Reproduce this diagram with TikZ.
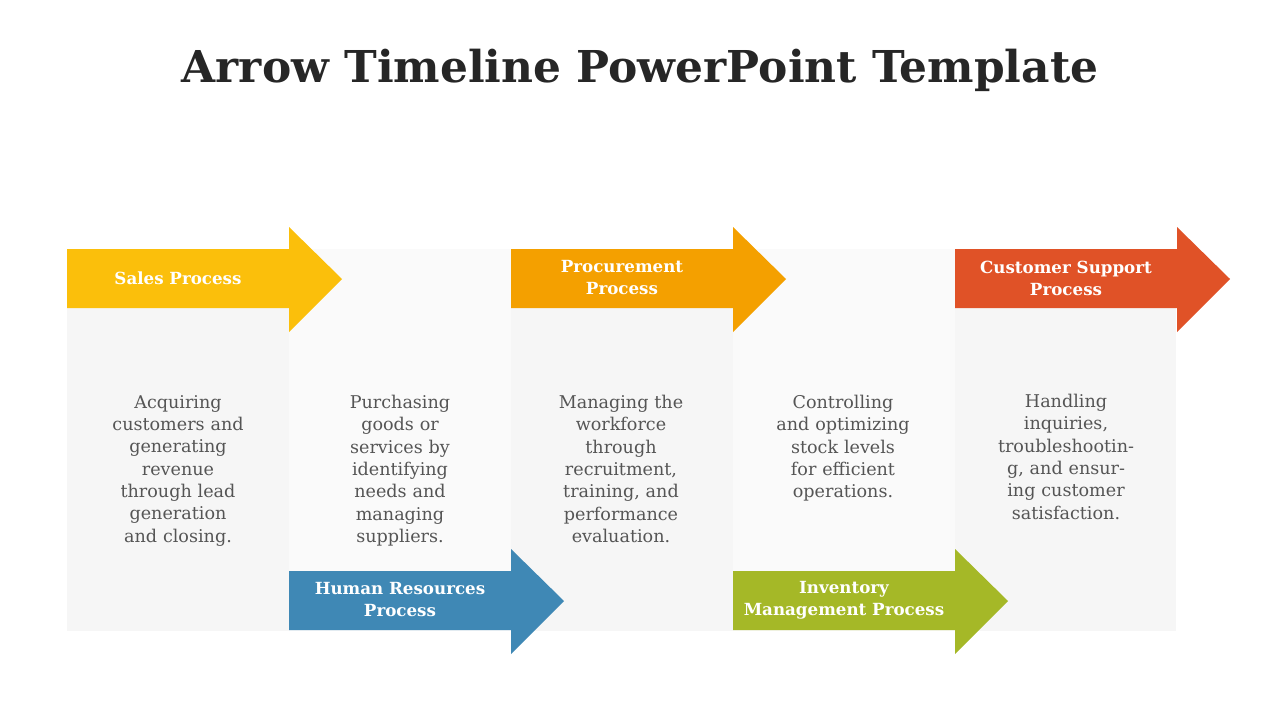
\documentclass[tikz,border=0pt]{standalone}
\usepackage{fontspec}
\setmainfont{DejaVu Serif}
\definecolor{salesyellow}{HTML}{FBBF0B}
\definecolor{procorange}{HTML}{F4A000}
\definecolor{supportred}{HTML}{E05227}
\definecolor{hrblue}{HTML}{3F88B5}
\definecolor{invgreen}{HTML}{A5B827}
\definecolor{paneldark}{HTML}{F6F6F6}
\definecolor{panellight}{HTML}{FAFAFA}
\definecolor{bodygray}{HTML}{555555}
\tikzset{
  desc/.style={align=center, text width=78pt, font=\fontsize{10}{12.7}\selectfont, text=bodygray},
  label/.style={align=center, text=white, font=\bfseries\fontsize{9.5}{12.5}\selectfont},
}
% arrow: #1 colour, #2 left x, #3 top y, #4 name, #5 text
\newcommand\tlarrow[5]{
  \fill[#1] (#2,#3) -- ++(222,0) -- ++(0,-22) -- ++(53,52) -- ++(-53,53)
    -- ++(0,-24) -- ++(-222,0) -- cycle;
  \node[label] (#4) at ($(#2,#3)+(111,29)$) {#5};
}
\usetikzlibrary{calc}
\begin{document}
\begin{tikzpicture}[x=0.02cm,y=-0.02cm]
  \useasboundingbox (0,0) rectangle (1280,720);
  \node[font=\bfseries\fontsize{25}{30}\selectfont, text=black!85] (title) at (640,70) {Arrow Timeline PowerPoint Template};
  % panels
  \fill[paneldark] (67,249) rectangle (289,631);
  \fill[panellight] (289,249) rectangle (511,631);
  \fill[paneldark] (511,249) rectangle (733,631);
  \fill[panellight] (733,249) rectangle (955,631);
  \fill[paneldark] (955,249) rectangle (1176,631);
  % arrows
  \tlarrow{salesyellow}{67}{249}{sales}{Sales Process}
  \tlarrow{procorange}{511}{249}{proc}{Procurement\\Process}
  \tlarrow{supportred}{955}{249}{support}{Customer Support\\Process}
  \tlarrow{hrblue}{289}{571}{hr}{Human Resources\\Process}
  \tlarrow{invgreen}{733}{571}{inv}{Inventory\\Management Process}
  % descriptions
  \node[desc, anchor=north] (salesdesc) at (178,389) {Acquiring customers and generating revenue through lead generation and closing.};
  \node[desc, anchor=north] (procdesc) at (400,389) {Purchasing goods or services by identifying needs and managing suppliers.};
  \node[desc, anchor=north] (hrdesc) at (621,389) {Managing the workforce through recruitment, training, and performance evaluation.};
  \node[desc, anchor=north] (invdesc) at (843,389) {Controlling and optimizing stock levels for efficient operations.};
  \node[desc, anchor=north] (supportdesc) at (1066,388) {Handling inquiries, troubleshootin\-g, and ensuring customer satisfaction.};
\end{tikzpicture}
\end{document}
